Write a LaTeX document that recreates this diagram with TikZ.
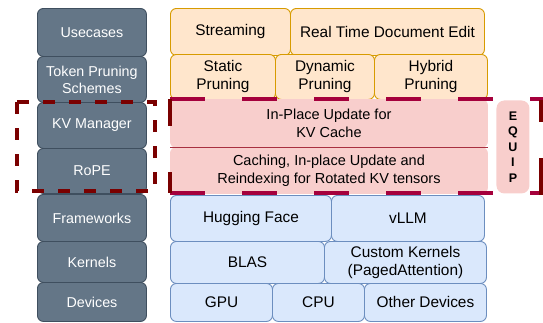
\documentclass[tikz,border=0pt]{standalone}
\usepackage{fontspec}
\setmainfont{Liberation Sans}
\begin{document}
\begin{tikzpicture}[x=1bp,y=-1bp,
  blk/.style={anchor=north west, rounded corners=6bp, inner sep=0pt, align=center, line width=0.9bp},
  layer/.style={blk, fill=layerfill, draw=layerline, text=white, font=\fontsize{14.3bp}{17bp}\selectfont},
  orangebox/.style={blk, fill=orfill, draw=orline, font=\fontsize{15.4bp}{18bp}\selectfont},
  pinkbox/.style={blk, fill=pkfill, draw=pkfill, font=\fontsize{14.5bp}{18bp}\selectfont},
  bluebox/.style={blk, fill=blfill, draw=blline, font=\fontsize{15.4bp}{18bp}\selectfont},
  frameA/.style={draw=frameDark, line width=4bp, dash pattern=on 12bp off 14bp},
  frameH/.style={draw=frameRed, line width=3.5bp, dash pattern=on 35bp off 37bp},
  frameL/.style={draw=frameDark, line width=4bp, dash pattern=on 27bp off 46bp},
  frameR/.style={draw=frameDark, line width=4bp, dash pattern=on 22bp off 36bp on 40bp off 10bp},
]
\definecolor{layerfill}{HTML}{647687}
\definecolor{layerline}{HTML}{3F4F5F}
\definecolor{orfill}{HTML}{FFE6CC}
\definecolor{orline}{HTML}{D79B00}
\definecolor{pkfill}{HTML}{F8CECC}
\definecolor{pkline}{HTML}{A83040}
\definecolor{blfill}{HTML}{DAE8FC}
\definecolor{blline}{HTML}{6C8EBF}
\definecolor{frameDark}{HTML}{7A0000}
\definecolor{frameRed}{HTML}{A5003C}

\useasboundingbox (0,0) rectangle (543,322);

% layer labels
\node[layer, minimum width=109bp, minimum height=48bp] (use) at (37,8) {Usecases};
\node[layer, minimum width=109bp, minimum height=46bp] (tps) at (37,56) {Token Pruning\\Schemes};
\node[layer, minimum width=109bp, minimum height=46bp] (kvm) at (37,102) {KV Manager};
\node[layer, minimum width=109bp, minimum height=45bp] (rope) at (37,148) {RoPE};
\node[layer, minimum width=109bp, minimum height=47bp] (fw) at (37,194) {Frameworks};
\node[layer, minimum width=109bp, minimum height=41bp] (kern) at (37,241) {Kernels};
\node[layer, minimum width=109bp, minimum height=39bp] (dev) at (37,282) {Devices};

% use cases
\node[orangebox, minimum width=120bp, minimum height=47bp] (stream) at (170,8) {Streaming};
\node[orangebox, minimum width=194bp, minimum height=47bp] (rtde) at (290,8) {Real Time Document Edit};

% pruning schemes
\node[orangebox, minimum width=105bp, minimum height=45bp] (static) at (170,54) {Static\\Pruning};
\node[orangebox, minimum width=99bp, minimum height=45bp] (dynamic) at (275,54) {Dynamic\\Pruning};
\node[orangebox, minimum width=113bp, minimum height=45bp] (hybrid) at (374,54) {Hybrid\\Pruning};

% KV manager and RoPE work
\node[pinkbox, minimum width=317bp, minimum height=48bp] (inplace) at (170,99) {In-Place Update for\\KV Cache};
\node[pinkbox, minimum width=317bp, minimum height=46bp] (reindex) at (170,147) {Caching, In-place Update and\\Reindexing for Rotated KV tensors};
\draw[pkline, line width=0.9bp] (inplace.south west) -- (inplace.south east);

% frameworks
\node[bluebox, minimum width=161bp, minimum height=46bp] (hf) at (170,195) {Hugging Face};
\node[bluebox, minimum width=153bp, minimum height=46bp] (vllm) at (331,195) {vLLM};

% kernels
\node[bluebox, minimum width=154bp, minimum height=42bp] (blas) at (170,241) {BLAS};
\node[bluebox, minimum width=162bp, minimum height=42bp] (custom) at (324,241) {Custom Kernels\\(PagedAttention)};

% devices
\node[bluebox, minimum width=102bp, minimum height=38bp] (gpu) at (170,283) {GPU};
\node[bluebox, minimum width=92bp, minimum height=38bp] (cpu) at (272,283) {CPU};
\node[bluebox, minimum width=122bp, minimum height=38bp] (other) at (364,283) {Other Devices};

% EQUIP tag
\node[blk, fill=pkfill, rounded corners=8bp, minimum width=33bp, minimum height=93bp,
      font=\fontsize{12.5bp}{15.5bp}\selectfont\bfseries] (equip) at (496,100) {E\\Q\\U\\I\\P};

% dashed frames
\coordinate (la) at (17,102);
\coordinate (lb) at (155,191);
\draw[frameA] (la) rectangle (lb);

\coordinate (ra) at (170,99);
\coordinate (rb) at (170,193);
\coordinate (rc) at (541,195);
\coordinate (rd) at (541,100);
\coordinate (re) at (545,99);
\coordinate (rf) at (545,193);
\draw[frameH] (ra) -- (re);
\draw[frameH] (rb) -- (rf);
\draw[frameL] (ra) -- (rb);
\draw[frameR] (rd) -- (rc);
\end{tikzpicture}
\end{document}
